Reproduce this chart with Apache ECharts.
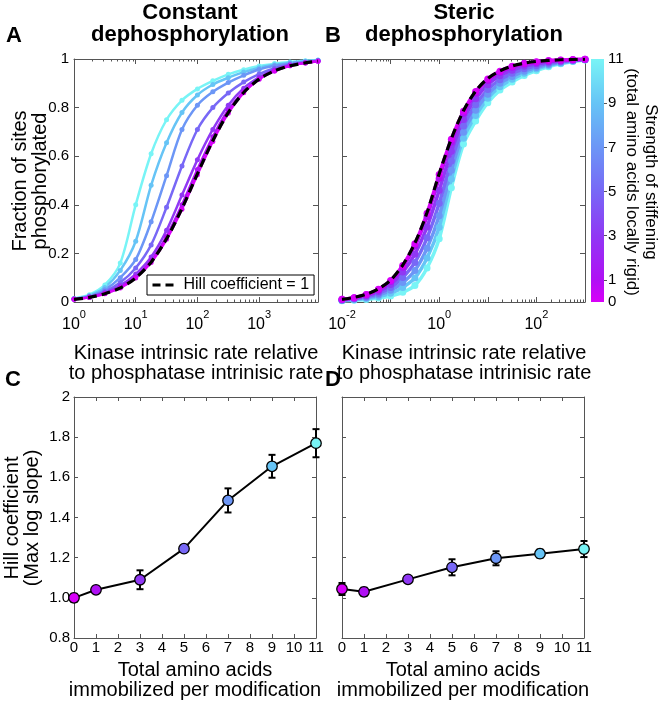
<!DOCTYPE html>
<html><head><meta charset="utf-8">
<script src="https://cdn.jsdelivr.net/npm/echarts@6/dist/echarts.min.js"></script>
<style>html,body{margin:0;padding:0;background:#fff}#c{width:661px;height:705px}</style>
</head><body><div id="c"></div>
<script>
const FONT = "'Liberation Sans', Arial, sans-serif";
const AX = '#555';

// stiffening levels and their colours (colour bar)
const levels = [0, 1, 3, 5, 7, 9, 11];
const levelColors = ['#d800f8', '#b010f4', '#9038f4', '#7868f6', '#6c96f6', '#66c4f6', '#78f4f6'];
const cbTicks = [0, 1, 3, 5, 7, 9, 11];

// Panel A: constant dephosphorylation
const xA = [1, 1.778, 3.162, 5.623, 10, 17.78, 31.62, 56.23, 100, 177.8, 316.2, 562.3, 1000, 1778, 3162, 5623, 9000];
const fracA0  = [0.011, 0.019, 0.034, 0.058, 0.099, 0.163, 0.258, 0.382, 0.524, 0.661, 0.777, 0.861, 0.917, 0.951, 0.972, 0.984, 0.991];
const fracA1  = [0.011, 0.020, 0.035, 0.060, 0.103, 0.170, 0.270, 0.400, 0.545, 0.680, 0.790, 0.866, 0.918, 0.951, 0.972, 0.984, 0.991];
const fracA3  = [0.012, 0.020, 0.038, 0.068, 0.115, 0.185, 0.295, 0.440, 0.585, 0.710, 0.810, 0.880, 0.925, 0.955, 0.974, 0.985, 0.992];
const fracA5  = [0.012, 0.022, 0.043, 0.080, 0.140, 0.235, 0.390, 0.560, 0.710, 0.800, 0.860, 0.905, 0.938, 0.962, 0.977, 0.987, 0.993];
const fracA7  = [0.012, 0.024, 0.050, 0.100, 0.175, 0.330, 0.520, 0.710, 0.810, 0.865, 0.903, 0.933, 0.957, 0.972, 0.982, 0.989, 0.994];
const fracA9  = [0.013, 0.027, 0.060, 0.130, 0.250, 0.480, 0.655, 0.780, 0.852, 0.895, 0.923, 0.946, 0.964, 0.976, 0.985, 0.991, 0.995];
const fracA11 = [0.014, 0.030, 0.070, 0.160, 0.400, 0.610, 0.750, 0.830, 0.877, 0.910, 0.937, 0.956, 0.971, 0.981, 0.988, 0.993, 0.996];
const hillA   = [0.011, 0.019, 0.034, 0.058, 0.099, 0.164, 0.260, 0.385, 0.527, 0.664, 0.779, 0.862, 0.917, 0.951, 0.972, 0.984, 0.991];

// Panel B: steric dephosphorylation
const xB = [0.01, 0.01778, 0.03162, 0.05623, 0.1, 0.1778, 0.3162, 0.5623, 1, 1.778, 3.162, 5.623, 10, 17.78, 31.62, 56.23, 100, 177.8, 316.2, 562.3, 1000];
const fracB0  = [0.011, 0.018, 0.031, 0.052, 0.088, 0.150, 0.240, 0.365, 0.525, 0.670, 0.785, 0.866, 0.918, 0.950, 0.970, 0.982, 0.989, 0.994, 0.996, 0.998, 0.999];
const fracB1  = [0.011, 0.017, 0.030, 0.050, 0.084, 0.143, 0.230, 0.352, 0.509, 0.658, 0.777, 0.859, 0.912, 0.945, 0.966, 0.979, 0.987, 0.992, 0.995, 0.997, 0.999];
const fracB3  = [0.0095, 0.015, 0.026, 0.043, 0.072, 0.123, 0.197, 0.309, 0.459, 0.620, 0.751, 0.836, 0.894, 0.931, 0.954, 0.970, 0.980, 0.988, 0.992, 0.996, 0.998];
const fracB5  = [0.008, 0.013, 0.022, 0.036, 0.060, 0.101, 0.163, 0.264, 0.406, 0.580, 0.724, 0.812, 0.874, 0.915, 0.941, 0.960, 0.972, 0.982, 0.989, 0.994, 0.998];
const fracB7  = [0.007, 0.011, 0.018, 0.029, 0.048, 0.080, 0.130, 0.221, 0.355, 0.542, 0.699, 0.789, 0.855, 0.900, 0.928, 0.950, 0.965, 0.977, 0.986, 0.993, 0.997];
const fracB9  = [0.006, 0.009, 0.014, 0.022, 0.036, 0.060, 0.099, 0.181, 0.308, 0.506, 0.674, 0.767, 0.838, 0.886, 0.917, 0.941, 0.959, 0.973, 0.983, 0.991, 0.997];
const fracB11 = [0.005, 0.007, 0.010, 0.016, 0.025, 0.040, 0.068, 0.140, 0.260, 0.470, 0.650, 0.745, 0.820, 0.872, 0.905, 0.932, 0.952, 0.968, 0.980, 0.990, 0.996];
const hillB   = [0.011, 0.019, 0.032, 0.054, 0.090, 0.152, 0.243, 0.368, 0.528, 0.672, 0.787, 0.868, 0.920, 0.951, 0.971, 0.983, 0.990, 0.994, 0.997, 0.998, 0.999];

// Panels C and D: Hill coefficient vs. immobilized amino acids
const aaX = [0, 1, 3, 5, 7, 9, 11];
const hillC = [1.000, 1.040, 1.090, 1.245, 1.485, 1.655, 1.770];
const errC  = [0.020, 0.016, 0.047, 0.016, 0.060, 0.057, 0.070];
const hillD = [1.044, 1.030, 1.092, 1.152, 1.197, 1.220, 1.243];
const errD  = [0.030, 0.020, 0.012, 0.040, 0.035, 0.020, 0.040];

// tick values
const majorA = [1, 10, 100, 1000];
const labelA = [1, 10, 100, 1000];
const majorB = [0.01, 0.1, 1, 10, 100, 1000];
const labelB = [0.01, 1, 100];
function minorTicks(lo, hi) { const r = []; for (let e = lo; e < hi; e++) for (let m = 2; m <= 9; m++) r.push(m * Math.pow(10, e)); return r; }
const minorA = minorTicks(0, 4).filter(v => v < 9000);
const minorB = minorTicks(-2, 3);

const fracA = [fracA0, fracA1, fracA3, fracA5, fracA7, fracA9, fracA11];
const fracB = [fracB0, fracB1, fracB3, fracB5, fracB7, fracB9, fracB11];

const xAxes = [], yAxes = [];
function addX(o) { xAxes.push(o); return xAxes.length - 1; }
function addY(o) { yAxes.push(o); return yAxes.length - 1; }
const line = (show) => ({ show: show, onZero: false, lineStyle: { color: AX, width: 1 } });
function tk(len, custom, inside) { const t = { show: true, inside: inside !== false, length: len, lineStyle: { color: AX, width: 1 } }; if (custom) t.customValues = custom; return t; }
const noLabel = { show: false };
const tickFont = { fontSize: 15, fontFamily: FONT, color: '#000' };

function logXAxes(gi, min, max, majors, minors, labels) {
  const common = { type: 'log', logBase: 10, gridIndex: gi, min: min, max: max, splitLine: { show: false } };
  const main = addX(Object.assign({}, common, {
    position: 'bottom', axisLine: line(true), axisTick: tk(5, majors),
    axisLabel: {
      show: true, customValues: labels, margin: 7,
      formatter: v => '{b|10}{s|' + Math.round(Math.log10(v)) + '}',
      rich: {
        b: { fontSize: 16, fontFamily: FONT, color: '#000', lineHeight: 24, verticalAlign: 'bottom' },
        s: { fontSize: 11, fontFamily: FONT, color: '#000', lineHeight: 10, verticalAlign: 'top' }
      }
    }
  }));
  addX(Object.assign({}, common, { position: 'top', axisLine: line(true), axisTick: tk(5, majors), axisLabel: noLabel }));
  addX(Object.assign({}, common, { position: 'bottom', axisLine: line(false), axisTick: tk(2.5, minors), axisLabel: noLabel }));
  addX(Object.assign({}, common, { position: 'top', axisLine: line(false), axisTick: tk(2.5, minors), axisLabel: noLabel }));
  return main;
}
function fracYAxes(gi, showLabels) {
  const common = { type: 'value', gridIndex: gi, min: 0, max: 1, interval: 0.2, splitLine: { show: false } };
  const main = addY(Object.assign({}, common, {
    position: 'left', axisLine: line(true), axisTick: tk(5),
    axisLabel: showLabels ? Object.assign({ margin: 5, formatter: v => (v === 0 ? '0' : (Math.abs(v - 1) < 1e-9 ? '1' : v.toFixed(1))) }, tickFont) : noLabel
  }));
  addY(Object.assign({}, common, { position: 'right', axisLine: line(true), axisTick: tk(5), axisLabel: noLabel }));
  return main;
}
function aaXAxes(gi) {
  const common = { type: 'value', gridIndex: gi, min: 0, max: 11, interval: 1, splitLine: { show: false } };
  const main = addX(Object.assign({}, common, { position: 'bottom', axisLine: line(true), axisTick: tk(4), axisLabel: Object.assign({ margin: 2 }, tickFont) }));
  addX(Object.assign({}, common, { position: 'top', axisLine: line(true), axisTick: tk(4), axisLabel: noLabel }));
  return main;
}
function hillYAxes(gi, showLabels) {
  const common = { type: 'value', gridIndex: gi, min: 0.8, max: 2, interval: 0.2, splitLine: { show: false } };
  const main = addY(Object.assign({}, common, {
    position: 'left', axisLine: line(true), axisTick: tk(4),
    axisLabel: showLabels ? Object.assign({ margin: 4, formatter: v => (Math.abs(v - 2) < 1e-9 ? '2' : v.toFixed(1)) }, tickFont) : noLabel
  }));
  addY(Object.assign({}, common, { position: 'right', axisLine: line(true), axisTick: tk(4), axisLabel: noLabel }));
  return main;
}

const axA = logXAxes(0, 1, 9000, majorA, minorA, labelA), ayA = fracYAxes(0, true);
const axB = logXAxes(1, 0.01, 1000, majorB, minorB, labelB), ayB = fracYAxes(1, false);
const axCb = addX({ type: 'category', gridIndex: 2, data: ['cb'], show: false });
const ayCb = addY({
  type: 'value', gridIndex: 2, min: 0, max: 11, position: 'right', splitLine: { show: false },
  axisLine: { show: false }, axisTick: tk(3, [1, 3, 5, 7, 9], false),
  axisLabel: Object.assign({ customValues: cbTicks, margin: 4 }, tickFont)
});
const axC = aaXAxes(3), ayC = hillYAxes(3, true);
const axD = aaXAxes(4), ayD = hillYAxes(4, false);

const series = [];
function curveSeries(xs, sets, hill, xi, yi, lw, ss) {
  for (let k = sets.length - 1; k >= 0; k--) {
    series.push({
      type: 'line', xAxisIndex: xi, yAxisIndex: yi, silent: true,
      data: xs.map((x, i) => [x, sets[k][i]]),
      smooth: 0.3, symbol: 'circle', symbolSize: ss, showAllSymbol: true,
      lineStyle: { color: levelColors[k], width: lw }, itemStyle: { color: levelColors[k] }, z: 2
    });
  }
  series.push({
    type: 'line', name: 'Hill coefficient = 1', xAxisIndex: xi, yAxisIndex: yi, silent: true,
    data: xs.map((x, i) => [x, hill[i]]), smooth: 0.3, symbol: 'none',
    lineStyle: { color: '#000', width: 3.2, type: [9, 5] }, itemStyle: { color: '#000' }, z: 5
  });
}
curveSeries(xA, fracA, hillA, axA, ayA, 2.5, 5);
curveSeries(xB, fracB, hillB, axB, ayB, 3.5, 7);

// colour bar
const stops = levels.map((l, i) => ({ offset: l / 11, color: levelColors[i] }));
series.push({
  type: 'bar', xAxisIndex: axCb, yAxisIndex: ayCb, data: [11], barWidth: '100%', silent: true,
  itemStyle: { color: new echarts.graphic.LinearGradient(0, 1, 0, 0, stops) }
});

function errRender(params, api) {
  const x = api.value(0), lo = api.value(1), hi = api.value(2);
  const p1 = api.coord([x, lo]), p2 = api.coord([x, hi]);
  const st = { stroke: '#000', lineWidth: 2 };
  return {
    type: 'group', children: [
      { type: 'line', shape: { x1: p1[0], y1: p1[1], x2: p2[0], y2: p2[1] }, style: st },
      { type: 'line', shape: { x1: p1[0] - 3.5, y1: p1[1], x2: p1[0] + 3.5, y2: p1[1] }, style: st },
      { type: 'line', shape: { x1: p2[0] - 3.5, y1: p2[1], x2: p2[0] + 3.5, y2: p2[1] }, style: st }
    ]
  };
}
function hillPanel(ys, es, xi, yi) {
  series.push({
    type: 'custom', xAxisIndex: xi, yAxisIndex: yi, silent: true, renderItem: errRender,
    encode: { x: 0, y: [1, 2] }, data: aaX.map((x, i) => [x, ys[i] - es[i], ys[i] + es[i]]), z: 3
  });
  series.push({
    type: 'line', xAxisIndex: xi, yAxisIndex: yi, silent: true,
    data: aaX.map((x, i) => ({ value: [x, ys[i]], itemStyle: { color: levelColors[i] } })),
    symbol: 'circle', symbolSize: 10.5, showAllSymbol: true,
    lineStyle: { color: '#000', width: 2 }, itemStyle: { borderColor: '#000', borderWidth: 1.3 }, z: 4
  });
}
hillPanel(hillC, errC, axC, ayC);
hillPanel(hillD, errD, axD, ayD);

function txt(x, y, text, size, opts) {
  return Object.assign({
    type: 'text', x: x, y: y, silent: true,
    style: Object.assign({ text: text, fontSize: size, fontFamily: FONT, fill: '#000', align: 'center', verticalAlign: 'middle', lineHeight: size }, opts && opts.style)
  }, opts && opts.el);
}
const bold = { style: { fontWeight: 'bold', lineHeight: 22 } };
const graphics = [
  txt(14, 36, 'A', 22, bold), txt(333, 36, 'B', 22, bold),
  txt(13, 380, 'C', 22, bold), txt(333, 380, 'D', 22, bold),
  txt(190, 24, 'Constant\ndephosphorylation', 22, bold),
  txt(464, 24, 'Steric\ndephosphorylation', 22, bold),
  txt(30, 181, 'Fraction of sites\nphosphorylated', 20, { style: { lineHeight: 20 }, el: { rotation: Math.PI / 2 } }),
  txt(22, 518, 'Hill coefficient\n(Max log slope)', 20, { style: { lineHeight: 20 }, el: { rotation: Math.PI / 2 } }),
  txt(641, 182, 'Strength of stiffening\n(total amino acids locally rigid)', 17, { style: { lineHeight: 19 }, el: { rotation: -Math.PI / 2 } }),
  txt(196, 363, 'Kinase intrinsic rate relative\nto phosphatase intrinisic rate', 20, { style: { lineHeight: 20 } }),
  txt(464, 363, 'Kinase intrinsic rate relative\nto phosphatase intrinisic rate', 20, { style: { lineHeight: 20 } }),
  txt(195, 680, 'Total amino acids\nimmobilized per modification', 20, { style: { lineHeight: 20 } }),
  txt(463, 680, 'Total amino acids\nimmobilized per modification', 20, { style: { lineHeight: 20 } })
];

const chart = echarts.init(document.getElementById('c'), null, { renderer: 'canvas' });
chart.setOption({
  animation: false,
  backgroundColor: '#fff',
  grid: [
    { left: 74, top: 59, width: 244, height: 243 },
    { left: 342, top: 59, width: 243, height: 243 },
    { left: 591, top: 59, width: 13, height: 243 },
    { left: 74, top: 397, width: 242, height: 241 },
    { left: 342, top: 397, width: 242, height: 241 }
  ],
  xAxis: xAxes,
  yAxis: yAxes,
  legend: {
    data: ['Hill coefficient = 1'], left: 147, top: 275, itemWidth: 26, itemHeight: 14, itemGap: 5,
    padding: [2, 5, 2, 4], borderColor: '#000', borderWidth: 1, backgroundColor: '#fff', selectedMode: false,
    itemStyle: { opacity: 0 },
    lineStyle: { color: '#000', width: 3, type: [8, 5] },
    textStyle: { fontSize: 16, fontFamily: FONT, color: '#000' }
  },
  series: series,
  graphic: graphics
});
</script></body></html>
